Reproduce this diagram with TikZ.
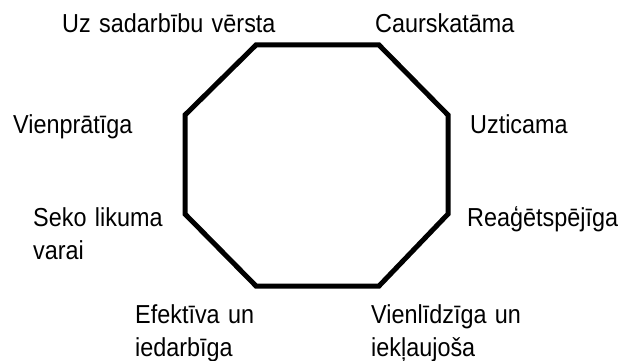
\documentclass[tikz,border=0pt]{standalone}
\usepackage{fontspec}
\setmainfont{Liberation Sans}[WordSpace=1.3,FakeStretch=0.9]
\begin{document}
\begin{tikzpicture}[x=1pt,y=-1pt,
  lbl/.style={anchor=base west,inner sep=0pt,align=left,font=\fontsize{26}{33}\selectfont},
  octa/.style={draw=black,line width=5pt,line join=miter}]
\useasboundingbox[fill=white] (0,0) rectangle (624,361);
\coordinate (p1) at (256,45);
\coordinate (p2) at (379,45);
\coordinate (p3) at (448,115);
\coordinate (p4) at (448,214);
\coordinate (p5) at (379,286);
\coordinate (p6) at (256,286);
\coordinate (p7) at (185,214);
\coordinate (p8) at (185,115);
\draw[octa] (p1) -- (p2) -- (p3) -- (p4) -- (p5) -- (p6) -- (p7) -- (p8) -- cycle;
\node[lbl] (t1) at (62,33) {Uz sadarbību vērsta};
\node[lbl] (t2) at (375,33) {Caurskatāma};
\node[lbl] (t3) at (13,133) {Vienprātīga};
\node[lbl] (t4) at (470,133) {Uzticama};
\node[lbl] (t5) at (33,259) {Seko likuma\\varai};
\node[lbl] (t6) at (467,226) {Reaģētspējīga};
\node[lbl] (t7) at (135,356) {Efektīva un\\iedarbīga};
\node[lbl] (t8) at (371,356) {Vienlīdzīga un\\iekļaujoša};
\end{tikzpicture}
\end{document}
